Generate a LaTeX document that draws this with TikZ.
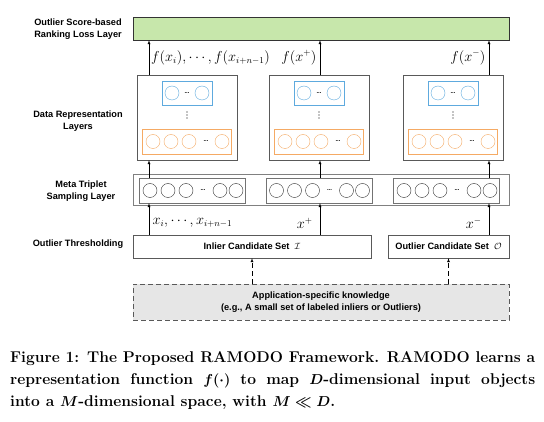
\documentclass[tikz,border=0pt]{standalone}
\usepackage{fontspec}
\setsansfont{Liberation Sans}
\definecolor{lossgreen}{RGB}{199,231,171}
\definecolor{nnblue}{RGB}{94,170,222}
\definecolor{nnorange}{RGB}{245,170,100}
\definecolor{kgrey}{RGB}{230,230,230}
\newcommand{\capfig}{\boldmath Figure 1: The Proposed RAMODO Framework. RAMODO learns a\linebreak representation function $f(\cdot)$ to map $D$-dimensional input objects\linebreak into a $M$-dimensional space, with $M \ll D$.}
\tikzset{
  lab/.style={font=\sffamily\bfseries\fontsize{9.2}{12}\selectfont,align=center},
  repbox/.style={draw=black!65,fill=white,minimum width=100pt,minimum height=85pt},
  bbox/.style={draw=nnblue,minimum width=50pt,minimum height=24pt},
  obox/.style={draw=nnorange,minimum width=89pt,minimum height=25pt},
  bnode/.style={circle,draw=nnblue,minimum size=14pt,inner sep=0pt},
  onode/.style={circle,draw=nnorange,minimum size=14pt,inner sep=0pt},
  knode/.style={circle,draw=black!80,minimum size=14pt,inner sep=0pt},
  inbox/.style={draw=black!55,minimum width=106pt,minimum height=25pt},
  dotsn/.style={inner sep=0pt,font=\sffamily\bfseries\fontsize{6}{6}\selectfont},
  setbox/.style={draw=black!65,minimum height=23pt,lab},
  mlab/.style={font=\fontsize{13.5}{13.5}\selectfont},
  dash5/.style={dash pattern=on 5pt off 3pt}
}
\begin{document}
\begin{tikzpicture}[x=1pt,y=-1pt,>=latex]
  \useasboundingbox (0,0) rectangle (544,422);

  % left labels
  \node[lab] (lLoss) at (78,29) {Outlier Score-based\\Ranking Loss Layer};
  \node[lab] (lRep) at (78,121) {Data Representation\\Layers};
  \node[lab] (lMeta) at (81,191) {Meta Triplet\\Sampling Layer};
  \node[lab] (lThr) at (78,244) {Outlier Thresholding};

  % loss layer
  \node[draw=black!80,fill=lossgreen,minimum width=376pt,minimum height=23pt] (loss) at (321,28.5) {};

  % representation layers
  \foreach \i/\x in {1/187,2/319,3/453}{
    \node[repbox] (rep\i) at (\x,117.5) {};
    \node[bbox] (blu\i) at (\x,93) {};
    \node[bnode] at ([xshift=-15pt]blu\i.center) {};
    \node[bnode] at ([xshift=15pt]blu\i.center) {};
    \node[dotsn] at (blu\i.center) {...};
    \foreach \t in {112,115,118}
      \fill (\x,\t) circle (0.7pt);
    \node[obox] (org\i) at (\x,141.5) {};
    \foreach \s in {-34,-16,2,35}
      \node[onode] at ([xshift=\s pt]org\i.center) {};
    \node[dotsn] at ([xshift=19pt]org\i.center) {...};
  }

  % meta triplet sampling layer
  \node[draw=black!50,line width=1pt,minimum width=376pt,minimum height=31pt] (trip) at (321,190.5) {};
  \foreach \i/\x in {1/192.5,2/319,3/446.5}{
    \node[inbox] (trip\i) at (\x,190.5) {};
    \foreach \s in {-42.5,-24.5,-6.5,27.5,43.5}
      \node[knode] at ([xshift=\s pt]trip\i.center) {};
    \node[dotsn] at ([xshift=10.5pt]trip\i.center) {...};
  }

  % candidate sets and knowledge
  \node[setbox,minimum width=238pt] (inl) at (252,246.5) {Inlier Candidate Set~ $\mathcal{I}$};
  \node[setbox,minimum width=121pt] (outl) at (448.5,246.5) {Outlier Candidate Set~ $\mathcal{O}$};
  \node[lab,draw=black!65,dash5,fill=kgrey,minimum width=376pt,minimum height=36pt] (know) at (321,302) {Application-specific knowledge\\(e.g., A small set of labeled inliers or Outliers)};

  \coordinate (k1) at (149,0);
  \coordinate (k2) at (320,0);
  \coordinate (k3) at (489,0);

  \draw[->] (rep1.north -| k1) -- node[right,inner sep=2pt,mlab]{$f(x_i),\cdots,f(x_{i+n-1})$} (loss.south -| k1);
  \draw[->] (rep2.north -| k2) -- node[left,mlab]{$f(x^+)$} (loss.south -| k2);
  \draw[->] (rep3.north -| k3) -- node[left,mlab]{$f(x^-)$} (loss.south -| k3);

  \draw[->] (trip1.north -| k1) -- (rep1.south -| k1);
  \draw[->] (trip2.north -| k2) -- (rep2.south -| k2);
  \draw[->] (trip3.north -| k3) -- (rep3.south -| k3);

  \draw[->] (inl.north -| k1) -- node[right,yshift=-4pt,mlab]{$x_i,\cdots,x_{i+n-1}$} (trip1.south -| k1);
  \draw[->] (inl.north -| k2) -- node[left,yshift=-4pt,xshift=-4pt,mlab]{$x^+$} (trip2.south -| k2);
  \draw[->] (outl.north -| k3) -- node[left,yshift=-4pt,xshift=-4pt,mlab]{$x^-$} (trip3.south -| k3);

  \draw[->,dash5] (know.north -| inl) -- (inl.south);
  \draw[->,dash5] (know.north -| outl) -- (outl.south);

  % caption
  \node[anchor=north west,inner sep=0pt,font=\bfseries\fontsize{15.6}{22}\selectfont] (cap) at (10,351) {\parbox{525pt}{\capfig}};
\end{tikzpicture}
\end{document}
